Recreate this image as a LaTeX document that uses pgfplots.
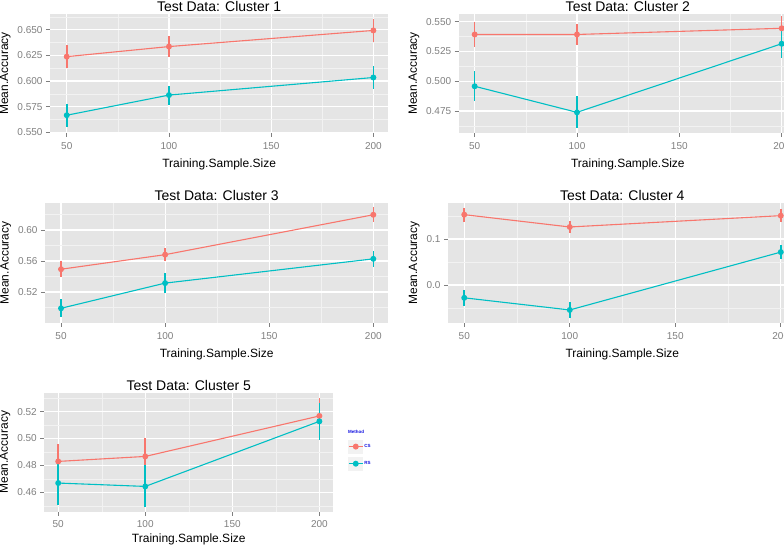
\documentclass[border=0pt]{standalone}
\usepackage{fontspec}
\setmainfont{Liberation Sans}
\usepackage{pgfplots}
\pgfplotsset{compat=1.18}
\definecolor{csred}{HTML}{F8766D}
\definecolor{rsteal}{HTML}{00BFC4}
\definecolor{bggray}{HTML}{E5E5E5}
\definecolor{minorgray}{HTML}{F2F2F2}
\definecolor{tickgray}{HTML}{7F7F7F}
\definecolor{legblue}{HTML}{1010E0}

\pgfplotsset{
  every axis title/.style={at={(0.5,1)}, anchor=base, yshift=2.5pt, font=\fontsize{14}{16}\selectfont},
  gg/.style={
    scale only axis,
    anchor=north west,
    axis background/.style={fill=bggray},
    axis line style={draw=none},
    grid=both,
    major grid style={white, line width=1.1pt},
    minor grid style={minorgray, line width=0.5pt},
    tick align=outside,
    xtick pos=bottom, ytick pos=left,
    major tick style={tickgray, line width=0.8pt},
    major tick length=4pt,
    minor tick length=0pt,
    xtick={50,100,150,200},
    minor xtick={75,125,175},
    tick label style={font=\fontsize{10}{12}\selectfont, text=tickgray},
    xticklabel style={yshift=-2pt},
    label style={font=\fontsize{12}{14}\selectfont},
    xlabel style={yshift=-3pt},
    xlabel={Training.Sample.Size},
    ylabel={Mean.Accuracy},
    /pgf/number format/assume math mode=true,
  },
  csplot/.style={color=csred, line width=1.1pt, mark=*, mark size=2.4pt, mark options={solid},
    error bars/y dir=both, error bars/y explicit, error bars/error mark=none,
    error bars/error bar style={line width=1.6pt}},
  rsplot/.style={color=rsteal, line width=1.1pt, mark=*, mark size=2.4pt, mark options={solid},
    error bars/y dir=both, error bars/y explicit, error bars/error mark=none,
    error bars/error bar style={line width=1.6pt}},
}

\begin{document}
\begin{tikzpicture}
\path[use as bounding box] (0pt,0pt) rectangle (784pt,546pt);
\clip (0pt,0pt) rectangle (784pt,546pt);

% Panel 1
\begin{axis}[gg, at={(50pt,532pt)}, width=338.3pt, height=118.7pt,
  xmin=41.8, xmax=207.3, ymin=0.5497, ymax=0.6652,
  ytick={0.55,0.575,0.6,0.625,0.65},
  minor ytick={0.5625,0.5875,0.6125,0.6375,0.6625},
  yticklabel style={/pgf/number format/.cd, fixed, fixed zerofill, precision=3},
  title={Test Data: Cluster 1}]
\addplot[csplot] table[x=x,y=y,y error=e] {
x y e
50 0.6237 0.0115
100 0.6335 0.0105
200 0.6492 0.0110
};
\addplot[rsplot] table[x=x,y=y,y error=e] {
x y e
50 0.5667 0.0114
100 0.5863 0.0093
200 0.6034 0.0110
};
\end{axis}

% Panel 2
\begin{axis}[gg, at={(458.7pt,532pt)}, width=338.3pt, height=118.7pt,
  xmin=42.2, xmax=207.5, ymin=0.4568, ymax=0.5565,
  ytick={0.475,0.5,0.525,0.55},
  minor ytick={0.4625,0.4875,0.5125,0.5375},
  yticklabel style={/pgf/number format/.cd, fixed, fixed zerofill, precision=3},
  title={Test Data: Cluster 2}]
\addplot[csplot] table[x=x,y=y,y error=e] {
x y e
50 0.5393 0.0102
100 0.5393 0.0085
200 0.5445 0.0100
};
\addplot[rsplot] table[x=x,y=y,y error=e] {
x y e
50 0.4958 0.0125
100 0.4739 0.0135
200 0.5315 0.0120
};
\end{axis}

% Panel 3
\begin{axis}[gg, at={(45pt,342.7pt)}, width=343.3pt, height=119.4pt,
  xmin=42.3, xmax=207.2, ymin=0.4804, ymax=0.6345,
  ytick={0.52,0.56,0.60},
  minor ytick={0.50,0.54,0.58,0.62},
  yticklabel style={/pgf/number format/.cd, fixed, fixed zerofill, precision=2},
  title={Test Data: Cluster 3}]
\addplot[csplot] table[x=x,y=y,y error=e] {
x y e
50 0.5494 0.0102
100 0.5682 0.0087
200 0.6197 0.0097
};
\addplot[rsplot] table[x=x,y=y,y error=e] {
x y e
50 0.4990 0.0115
100 0.5315 0.0128
200 0.5628 0.0106
};
\end{axis}

% Panel 4
\begin{axis}[gg, at={(448pt,342.7pt)}, width=348.6pt, height=119.4pt,
  xmin=42.3, xmax=207.5, ymin=-0.082, ymax=0.1776,
  ytick={0,0.1},
  minor ytick={-0.05,0.05,0.15},
  yticklabel style={/pgf/number format/.cd, fixed, fixed zerofill, precision=1},
  title={Test Data: Cluster 4}]
\addplot[csplot] table[x=x,y=y,y error=e] {
x y e
50 0.1529 0.0152
100 0.1261 0.0138
200 0.1507 0.0140
};
\addplot[rsplot] table[x=x,y=y,y error=e] {
x y e
50 -0.0279 0.0170
100 -0.0543 0.0167
200 0.0715 0.0160
};
\end{axis}

% Panel 5
\begin{axis}[gg, name=p5, at={(44.3pt,153.3pt)}, width=289pt, height=119pt,
  xmin=42, xmax=208, ymin=0.4456, ymax=0.5341,
  xticklabel style={yshift=1pt},
  xlabel style={yshift=3pt},
  ytick={0.46,0.48,0.50,0.52},
  minor ytick={0.45,0.47,0.49,0.51,0.53},
  yticklabel style={/pgf/number format/.cd, fixed, fixed zerofill, precision=2},
  title={Test Data: Cluster 5},
  legend style={at={(1.051,0.608)}, anchor=north west, draw=none, fill=none,
    font=\fontsize{4.5}{5}\selectfont\bfseries, text=legblue, inner sep=0pt,
    row sep=3pt, cells={anchor=west}, nodes={inner sep=1pt}},
  legend image code/.code={
    \fill[black!5] (0pt,-6.5pt) rectangle (14pt,6.5pt);
    \draw[mark repeat=2, mark phase=2, #1] plot coordinates {(0pt,0pt) (7pt,0pt) (14pt,0pt)};
  }]
\addplot[csplot] table[x=x,y=y,y error=e] {
x y e
50 0.4830 0.0130
100 0.4867 0.0140
200 0.5168 0.0130
};
\addlegendentry{CS}
\addplot[rsplot] table[x=x,y=y,y error=e] {
x y e
50 0.4669 0.0160
100 0.4644 0.0156
200 0.5128 0.0140
};
\addlegendentry{RS}
\end{axis}
\node[anchor=west, inner sep=0pt, font=\fontsize{4.5}{5}\selectfont\bfseries, text=legblue]
  at ([xshift=14.7pt,yshift=19.9pt]p5.east) {Method};
\end{tikzpicture}
\end{document}
